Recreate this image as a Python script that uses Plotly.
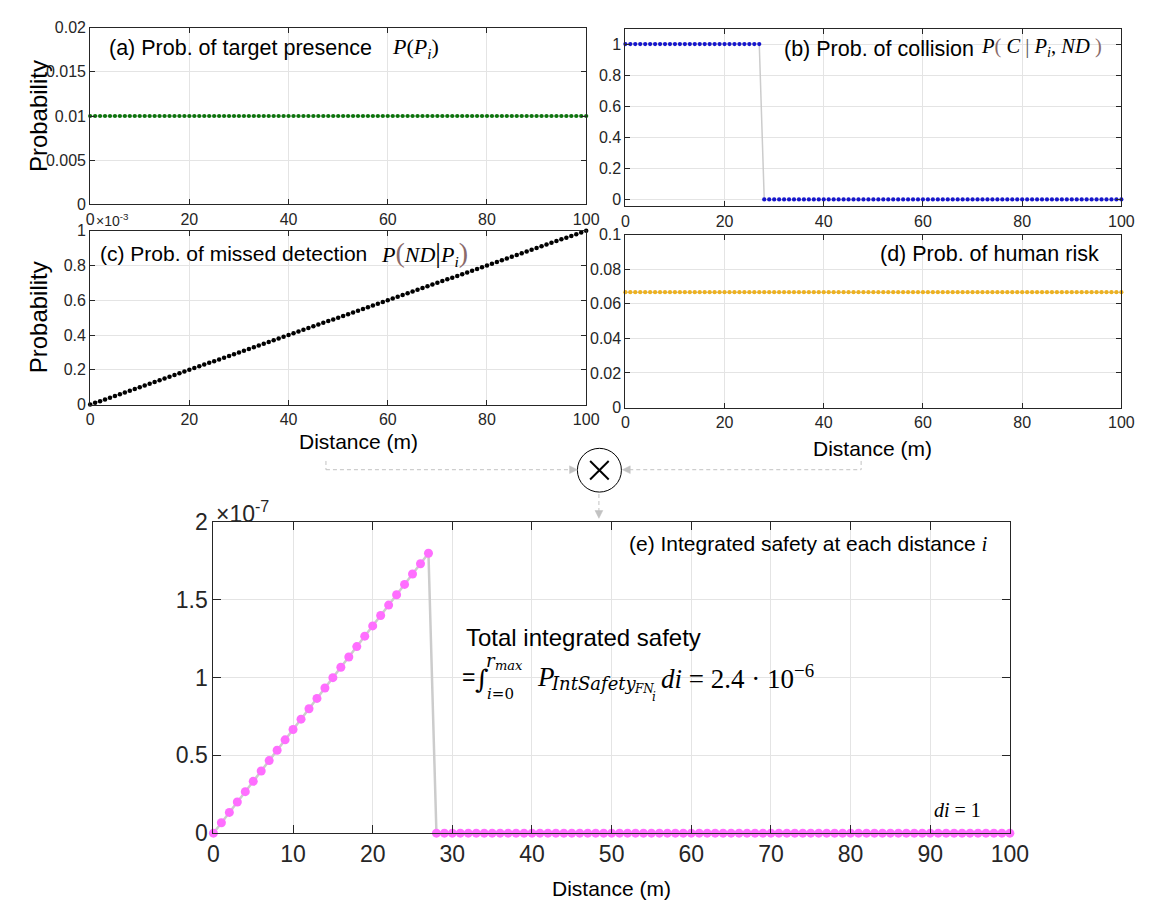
import plotly.graph_objects as go

W, H = 1158, 920
SANS = "Liberation Sans, Arial, Helvetica, sans-serif"
SERIF = "Liberation Serif, Times New Roman, serif"
DSERIF = "DejaVu Serif, serif"
TXT = "#262626"

# ---------------- data ----------------
distance = [0, 1, 2, 3, 4, 5, 6, 7, 8, 9,
            10, 11, 12, 13, 14, 15, 16, 17, 18, 19,
            20, 21, 22, 23, 24, 25, 26, 27, 28, 29,
            30, 31, 32, 33, 34, 35, 36, 37, 38, 39,
            40, 41, 42, 43, 44, 45, 46, 47, 48, 49,
            50, 51, 52, 53, 54, 55, 56, 57, 58, 59,
            60, 61, 62, 63, 64, 65, 66, 67, 68, 69,
            70, 71, 72, 73, 74, 75, 76, 77, 78, 79,
            80, 81, 82, 83, 84, 85, 86, 87, 88, 89,
            90, 91, 92, 93, 94, 95, 96, 97, 98, 99, 100]

p_target = [0.01, 0.01, 0.01, 0.01, 0.01, 0.01, 0.01, 0.01, 0.01, 0.01,
            0.01, 0.01, 0.01, 0.01, 0.01, 0.01, 0.01, 0.01, 0.01, 0.01,
            0.01, 0.01, 0.01, 0.01, 0.01, 0.01, 0.01, 0.01, 0.01, 0.01,
            0.01, 0.01, 0.01, 0.01, 0.01, 0.01, 0.01, 0.01, 0.01, 0.01,
            0.01, 0.01, 0.01, 0.01, 0.01, 0.01, 0.01, 0.01, 0.01, 0.01,
            0.01, 0.01, 0.01, 0.01, 0.01, 0.01, 0.01, 0.01, 0.01, 0.01,
            0.01, 0.01, 0.01, 0.01, 0.01, 0.01, 0.01, 0.01, 0.01, 0.01,
            0.01, 0.01, 0.01, 0.01, 0.01, 0.01, 0.01, 0.01, 0.01, 0.01,
            0.01, 0.01, 0.01, 0.01, 0.01, 0.01, 0.01, 0.01, 0.01, 0.01,
            0.01, 0.01, 0.01, 0.01, 0.01, 0.01, 0.01, 0.01, 0.01, 0.01, 0.01]

p_collision = [1, 1, 1, 1, 1, 1, 1, 1, 1, 1,
               1, 1, 1, 1, 1, 1, 1, 1, 1, 1,
               1, 1, 1, 1, 1, 1, 1, 1, 0, 0,
               0, 0, 0, 0, 0, 0, 0, 0, 0, 0,
               0, 0, 0, 0, 0, 0, 0, 0, 0, 0,
               0, 0, 0, 0, 0, 0, 0, 0, 0, 0,
               0, 0, 0, 0, 0, 0, 0, 0, 0, 0,
               0, 0, 0, 0, 0, 0, 0, 0, 0, 0,
               0, 0, 0, 0, 0, 0, 0, 0, 0, 0,
               0, 0, 0, 0, 0, 0, 0, 0, 0, 0, 0]

p_missed = [0.00, 0.01, 0.02, 0.03, 0.04, 0.05, 0.06, 0.07, 0.08, 0.09,
            0.10, 0.11, 0.12, 0.13, 0.14, 0.15, 0.16, 0.17, 0.18, 0.19,
            0.20, 0.21, 0.22, 0.23, 0.24, 0.25, 0.26, 0.27, 0.28, 0.29,
            0.30, 0.31, 0.32, 0.33, 0.34, 0.35, 0.36, 0.37, 0.38, 0.39,
            0.40, 0.41, 0.42, 0.43, 0.44, 0.45, 0.46, 0.47, 0.48, 0.49,
            0.50, 0.51, 0.52, 0.53, 0.54, 0.55, 0.56, 0.57, 0.58, 0.59,
            0.60, 0.61, 0.62, 0.63, 0.64, 0.65, 0.66, 0.67, 0.68, 0.69,
            0.70, 0.71, 0.72, 0.73, 0.74, 0.75, 0.76, 0.77, 0.78, 0.79,
            0.80, 0.81, 0.82, 0.83, 0.84, 0.85, 0.86, 0.87, 0.88, 0.89,
            0.90, 0.91, 0.92, 0.93, 0.94, 0.95, 0.96, 0.97, 0.98, 0.99, 1.00]

p_human = [0.0667, 0.0667, 0.0667, 0.0667, 0.0667, 0.0667, 0.0667, 0.0667, 0.0667, 0.0667,
           0.0667, 0.0667, 0.0667, 0.0667, 0.0667, 0.0667, 0.0667, 0.0667, 0.0667, 0.0667,
           0.0667, 0.0667, 0.0667, 0.0667, 0.0667, 0.0667, 0.0667, 0.0667, 0.0667, 0.0667,
           0.0667, 0.0667, 0.0667, 0.0667, 0.0667, 0.0667, 0.0667, 0.0667, 0.0667, 0.0667,
           0.0667, 0.0667, 0.0667, 0.0667, 0.0667, 0.0667, 0.0667, 0.0667, 0.0667, 0.0667,
           0.0667, 0.0667, 0.0667, 0.0667, 0.0667, 0.0667, 0.0667, 0.0667, 0.0667, 0.0667,
           0.0667, 0.0667, 0.0667, 0.0667, 0.0667, 0.0667, 0.0667, 0.0667, 0.0667, 0.0667,
           0.0667, 0.0667, 0.0667, 0.0667, 0.0667, 0.0667, 0.0667, 0.0667, 0.0667, 0.0667,
           0.0667, 0.0667, 0.0667, 0.0667, 0.0667, 0.0667, 0.0667, 0.0667, 0.0667, 0.0667,
           0.0667, 0.0667, 0.0667, 0.0667, 0.0667, 0.0667, 0.0667, 0.0667, 0.0667, 0.0667, 0.0667]

p_intsafety = [0.0, 6.67e-9, 1.333e-8, 2.0e-8, 2.667e-8, 3.333e-8, 4.0e-8, 4.667e-8, 5.333e-8, 6.0e-8,
               6.667e-8, 7.333e-8, 8.0e-8, 8.667e-8, 9.333e-8, 1.0e-7, 1.067e-7, 1.133e-7, 1.2e-7, 1.267e-7,
               1.333e-7, 1.4e-7, 1.467e-7, 1.533e-7, 1.6e-7, 1.667e-7, 1.733e-7, 1.8e-7, 0.0, 0.0,
               0.0, 0.0, 0.0, 0.0, 0.0, 0.0, 0.0, 0.0, 0.0, 0.0,
               0.0, 0.0, 0.0, 0.0, 0.0, 0.0, 0.0, 0.0, 0.0, 0.0,
               0.0, 0.0, 0.0, 0.0, 0.0, 0.0, 0.0, 0.0, 0.0, 0.0,
               0.0, 0.0, 0.0, 0.0, 0.0, 0.0, 0.0, 0.0, 0.0, 0.0,
               0.0, 0.0, 0.0, 0.0, 0.0, 0.0, 0.0, 0.0, 0.0, 0.0,
               0.0, 0.0, 0.0, 0.0, 0.0, 0.0, 0.0, 0.0, 0.0, 0.0,
               0.0, 0.0, 0.0, 0.0, 0.0, 0.0, 0.0, 0.0, 0.0, 0.0, 0.0]

x_ticks_small = [0, 20, 40, 60, 80, 100]
x_ticks_big = [0, 10, 20, 30, 40, 50, 60, 70, 80, 90, 100]
yt_a = [0, 0.005, 0.01, 0.015, 0.02]
yt_a_text = ["0", "0.005", "0.01", "0.015", "0.02"]
yt_b = [0, 0.2, 0.4, 0.6, 0.8, 1]
yt_b_text = ["0", "0.2", "0.4", "0.6", "0.8", "1"]
yt_d = [0, 0.02, 0.04, 0.06, 0.08, 0.1]
yt_d_text = ["0", "0.02", "0.04", "0.06", "0.08", "0.1"]
yt_e = [0, 0.5e-7, 1e-7, 1.5e-7, 2e-7]
yt_e_text = ["0", "0.5", "1", "1.5", "2"]


def fx(p):
    return p / W


def fy(p):
    return 1 - p / H


fig = go.Figure()

panels = [
    ("x", "y", p_target, "#0c740c", 4.2, 1.5),
    ("x2", "y2", p_collision, "#1616cc", 4.2, 1.5),
    ("x3", "y3", p_missed, "#000000", 4.5, 1.5),
    ("x4", "y4", p_human, "#EDB120", 4.2, 1.5),
    ("x5", "y5", p_intsafety, "#ff6eff", 9, 2.5),
]
for xa, ya, vals, col, ms, lw in panels:
    fig.add_trace(go.Scatter(
        x=distance, y=vals, xaxis=xa, yaxis=ya, mode="lines+markers",
        line=dict(color="#cccccc", width=lw),
        marker=dict(color=col, size=ms, line=dict(width=0)),
        cliponaxis=False, showlegend=False, hoverinfo="skip"))


def axis(domain, rng, tickvals, ticktext, anchor, fsize, ticklen):
    return dict(domain=domain, range=rng, tickmode="array", tickvals=tickvals,
                ticktext=ticktext, showline=True, linecolor=TXT, linewidth=1,
                mirror="ticks", ticks="inside", ticklen=ticklen, tickcolor=TXT,
                tickwidth=1, showgrid=True, gridcolor="#e4e4e4", gridwidth=1,
                zeroline=False, anchor=anchor,
                tickfont=dict(family=SANS, size=fsize, color=TXT))


LA, RA, LB, RB = 86, 593, 633, 1140
fig.update_layout(
    xaxis=axis([fx(LA), fx(RA)], [0, 100], x_ticks_small, [str(v) for v in x_ticks_small], "y", 16, 5),
    yaxis=axis([fy(197), fy(15)], [0, 0.02], yt_a, yt_a_text, "x", 16, 5),
    xaxis2=axis([fx(LB), fx(RB)], [0, 100], x_ticks_small, [str(v) for v in x_ticks_small], "y2", 16, 5),
    yaxis2=axis([fy(199), fy(16)], [-0.045, 1.1], yt_b, yt_b_text, "x2", 16, 5),
    xaxis3=axis([fx(LA), fx(RA)], [0, 100], x_ticks_small, [str(v) for v in x_ticks_small], "y3", 16, 5),
    yaxis3=axis([fy(403), fy(224)], [0, 1], yt_b, yt_b_text, "x3", 16, 5),
    xaxis4=axis([fx(LB), fx(RB)], [0, 100], x_ticks_small, [str(v) for v in x_ticks_small], "y4", 16, 5),
    yaxis4=axis([fy(406), fy(228)], [0, 0.1], yt_d, yt_d_text, "x4", 16, 5),
    xaxis5=axis([fx(212), fx(1026)], [0, 100], x_ticks_big, [str(v) for v in x_ticks_big], "y5", 23, 8),
    yaxis5=axis([fy(844), fy(524)], [0, 2e-7], yt_e, yt_e_text, "x5", 23, 8),
)

# ---------------- white boxes behind labels ----------------
shapes = []


def wbox(x0, y0, x1, y1):
    shapes.append(dict(type="rect", xref="paper", yref="paper", layer="between",
                       x0=fx(x0), x1=fx(x1), y0=fy(y1), y1=fy(y0),
                       fillcolor="white", line=dict(width=0)))


wbox(96, 16, 498, 58)
wbox(785, 17, 1139, 58)
wbox(88, 225, 466, 259)
wbox(890, 229, 1138, 270)
wbox(625, 525, 1025, 572)
wbox(452, 622, 836, 712)
# the 90 m grid line of panel (e) only shows just above the "di = 1" note
shapes.append(dict(type="line", xref="paper", yref="paper", layer="between",
                   x0=fx(944.6), x1=fx(944.6), y0=fy(778), y1=fy(525),
                   line=dict(color="white", width=3)))

# ---------------- multiplication node and connectors ----------------
GR = "#c2c2c2"
shapes.append(dict(type="circle", xref="paper", yref="paper",
                   x0=fx(584), x1=fx(629), y0=fy(493), y1=fy(448),
                   line=dict(color="black", width=1)))
shapes.append(dict(type="line", xref="paper", yref="paper", x0=fx(597), y0=fy(461), x1=fx(616), y1=fy(480),
                   line=dict(color="black", width=2)))
shapes.append(dict(type="line", xref="paper", yref="paper", x0=fx(597), y0=fy(480), x1=fx(616), y1=fy(461),
                   line=dict(color="black", width=2)))


def dline(x0, y0, x1, y1):
    shapes.append(dict(type="line", xref="paper", yref="paper",
                       x0=fx(x0), y0=fy(y0), x1=fx(x1), y1=fy(y1),
                       line=dict(color=GR, width=1, dash="4px,3px")))


def tri(pts):
    path = "M " + " L ".join(f"{fx(a):.5f},{fy(b):.5f}" for a, b in pts) + " Z"
    shapes.append(dict(type="path", xref="paper", yref="paper", path=path,
                       fillcolor=GR, line=dict(color=GR, width=0.5)))


dline(327, 461, 327, 470)
dline(327, 470, 577, 470)
tri([(584, 470), (576, 466), (576, 474)])
dline(874, 461, 874, 470)
dline(637, 470, 874, 470)
tri([(630, 470), (638, 466), (638, 474)])
dline(606, 495, 606, 513)
tri([(606, 520), (602, 512), (610, 512)])

# ---------------- annotations ----------------
anns = []


def ann(x, y, text, size, family=SANS, xanchor="left", color="black", angle=0):
    anns.append(dict(x=fx(x), y=fy(y), xref="paper", yref="paper", text=text,
                     showarrow=False, xanchor=xanchor, yanchor="middle",
                     textangle=angle, borderpad=0,
                     font=dict(family=family, size=size, color=color)))


BR = "#8a6a6a"
ann(104, 36, "(a) Prob. of target presence", 21.5)
ann(394, 36, "<i>P</i>(<i>P<sub>i</sub></i>)", 22, SERIF)
ann(794, 37, "(b) Prob. of collision", 21.5)
ann(996, 36, f"<i>P</i><span style='color:{BR}'>(</span> <i>C</i> <span style='color:#555555'>|</span> "
             f"<i>P<sub>i</sub></i>, <i>ND</i> <span style='color:{BR}'>)</span>", 20.5, SERIF)
ann(95, 247, "(c) Prob. of missed detection", 21)
ann(382, 247, f"<i>P</i><span style='color:{BR};font-size:28px'>(</span><i>ND</i>"
              f"<span style='font-size:28px'>|</span><i>P<sub>i</sub></i>"
              f"<span style='color:{BR};font-size:28px'>)</span>", 22, SERIF)
ann(1118, 248, "(d) Prob. of human risk", 21.5, xanchor="right")
ann(1005, 546, "(e) Integrated safety at each distance "
               "<span style='font-family:Liberation Serif'><i>i</i></span>", 21, xanchor="right")

ann(18, 106, "Probability", 24, angle=-90)
ann(18, 313, "Probability", 24, angle=-90)
ann(360, 441, "Distance (m)", 21, xanchor="center")
ann(886, 448, "Distance (m)", 21, xanchor="center")
ann(619, 901, "Distance (m)", 21, xanchor="center")

ann(91, 213, "×10<sup>-3</sup>", 14, color=TXT)
ann(214, 513, "×10<sup>-7</sup>", 23, color=TXT)

# formula box
ann(469, 643, "Total integrated safety", 24)
ann(465, 683, "=", 23)
ann(478, 685, "∫", 26, DSERIF)
ann(490, 666, "<i>r</i>", 18, DSERIF)
ann(499, 671, "<i>max</i>", 13, DSERIF)
ann(491, 701, "<i>i</i>=0", 15, DSERIF)
ann(542, 683, "<i>P</i>", 27, SERIF)
ann(556, 690, "<i>IntSafety</i>", 18, DSERIF)
ann(641, 696, "<i>FN</i>", 12, DSERIF)
ann(659, 704, "<i>i</i>", 12, DSERIF)
ann(668, 683, "<i>di</i> = 2.4 · 10<sup>−6</sup>", 27, SERIF)

ann(947, 820, "<i>di</i> = 1", 20, SERIF)

fig.update_layout(
    width=W, height=H, margin=dict(l=0, r=0, t=0, b=0),
    paper_bgcolor="white", plot_bgcolor="white",
    shapes=shapes, annotations=anns, showlegend=False,
    font=dict(family=SANS, color=TXT),
)

fig.write_html("out.html",
               post_script="document.body.style.margin='0';document.body.style.overflow='hidden';")
